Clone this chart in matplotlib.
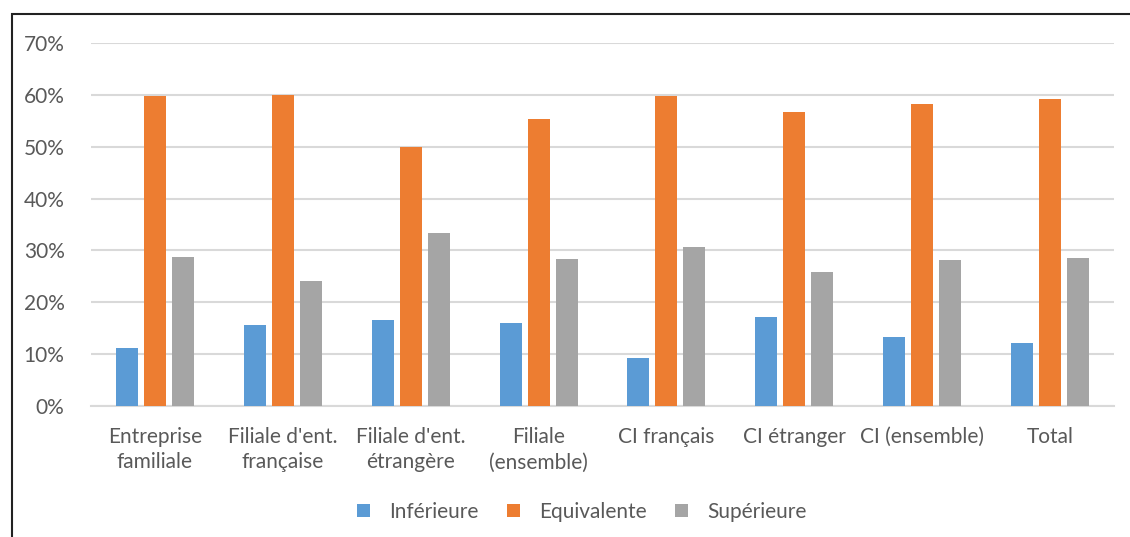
import matplotlib
matplotlib.use("Agg")
import matplotlib.pyplot as plt
import numpy as np
from matplotlib.patches import Rectangle

categories = [
    "Entreprise\nfamiliale",
    "Filiale d'ent.\nfrançaise",
    "Filiale d'ent.\nétrangère",
    "Filiale\n(ensemble)",
    "CI français",
    "CI étranger",
    "CI (ensemble)",
    "Total",
]
series_names = ["Inférieure", "Equivalente", "Supérieure"]
inferieure = [11.2, 15.7, 16.5, 16.1, 9.3, 17.1, 13.3, 12.1]
equivalente = [59.8, 60.0, 49.9, 55.4, 59.7, 56.7, 58.2, 59.2]
superieure = [28.8, 24.1, 33.3, 28.3, 30.7, 25.9, 28.2, 28.5]
yticks = [0, 10, 20, 30, 40, 50, 60, 70]

colors = ["#5b9bd5", "#ed7d31", "#a5a5a5"]
text_color = "#595959"
grid_color = "#d9d9d9"

plt.rcParams["font.family"] = ["Lato", "DejaVu Sans"]

fig = plt.figure(figsize=(11.30, 5.37), dpi=100)
fig.patch.set_facecolor("white")

# outer frame (only left and top edges fall inside the canvas)
fig.patches.append(Rectangle((12 / 1130, -0.2), 1.5, 1.2 - 14 / 537,
                             transform=fig.transFigure, fill=False,
                             edgecolor="#222222", linewidth=1.5, zorder=0))

ax = fig.add_axes([91 / 1130, 1 - 406 / 537, (1114 - 91) / 1130, (406 - 43) / 537])

x = np.arange(len(categories))
step = 0.219
width = 0.172
for i, (vals, name) in enumerate(zip([inferieure, equivalente, superieure], series_names)):
    ax.bar(x + (i - 1) * step, vals, width=width, color=colors[i], label=name, zorder=3)

ax.set_xlim(-0.5, len(categories) - 0.5)
ax.set_ylim(0, 70)
ax.set_yticks(yticks)
ax.set_yticklabels([f"{v}%" for v in yticks])
ax.set_xticks(x)
ax.set_xticklabels(categories, linespacing=1.35)

ax.yaxis.grid(True, color=grid_color, linewidth=1.5, zorder=0)
ax.set_axisbelow(True)
for side in ["top", "right", "left"]:
    ax.spines[side].set_visible(False)
ax.spines["bottom"].set_color(grid_color)
ax.spines["bottom"].set_linewidth(1.5)

ax.tick_params(axis="both", length=0, labelsize=15, colors=text_color)
ax.tick_params(axis="y", pad=19)
ax.tick_params(axis="x", pad=15)

leg = fig.legend(loc="center", bbox_to_anchor=(582 / 1130, 1 - 512 / 537), ncol=3,
                 frameon=False, fontsize=15, handlelength=0.6, handleheight=0.6,
                 columnspacing=1.35, handletextpad=0.95)
for t in leg.get_texts():
    t.set_color(text_color)

fig.savefig("out.png", dpi=100, facecolor="white")
